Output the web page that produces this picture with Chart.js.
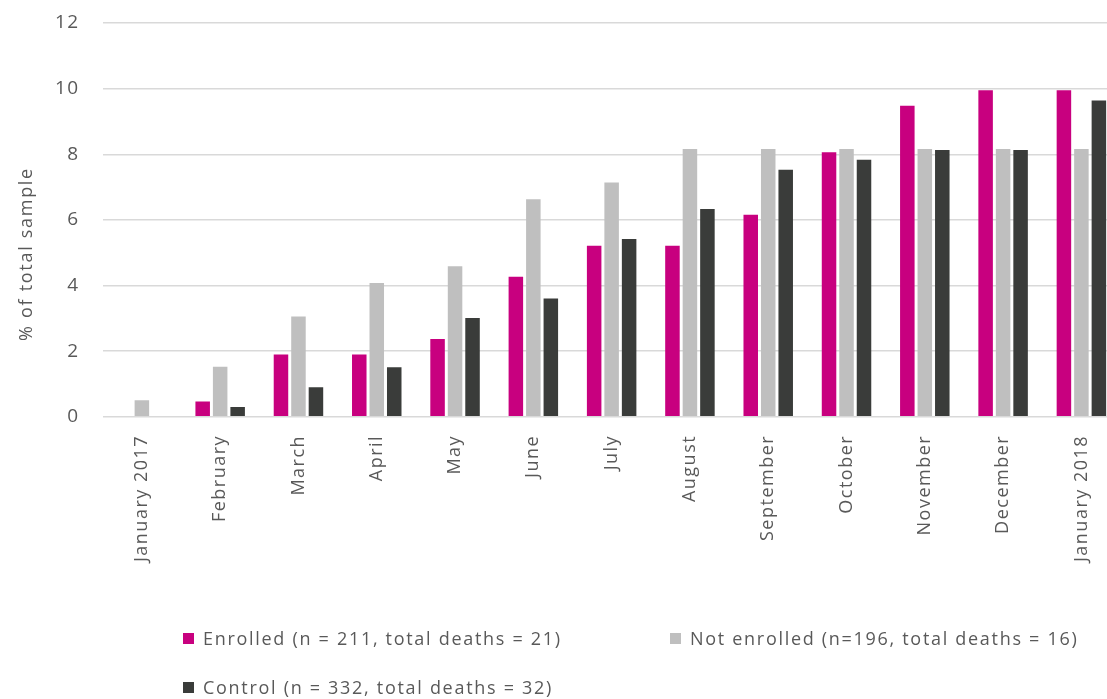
<!DOCTYPE html>
<html>
<head>
<meta charset="utf-8">
<script src="https://cdn.jsdelivr.net/npm/chart.js"></script>
<style>
  body { margin: 0; background: #fff; font-family: "Open Sans", sans-serif; overflow: hidden; }
  #wrap { position: relative; width: 1107px; height: 699px; overflow: hidden; }
  #chartBox { position: absolute; left: 0; top: 0; width: 1121px; height: 580px; }
  #yTitle {
    position: absolute; left: 25px; top: 254px;
    transform: translate(-50%, -50%) rotate(-90deg);
    white-space: nowrap; font-size: 18px; letter-spacing: 1.7px; color: #595959;
  }
  #legend { position: absolute; left: 0; top: 0; width: 1107px; height: 699px; pointer-events: none; }
  .item { position: absolute; display: flex; align-items: center; font-size: 18px; color: #595959; white-space: nowrap; letter-spacing: 1.7px; }
  .swatch { width: 11px; height: 11px; margin-right: 9px; }
</style>
</head>
<body>
<div id="wrap">
  <div id="chartBox"><canvas id="myChart"></canvas></div>
  <div id="yTitle">% of total sample</div>
  <div id="legend"></div>
</div>

<script>
  const months = ['January 2017', 'February', 'March', 'April', 'May', 'June', 'July',
    'August', 'September', 'October', 'November', 'December', 'January 2018'];

  // cumulative deaths as % of each group
  const enrolled    = [0, 0.47, 1.90, 1.90, 2.37, 4.27, 5.21, 5.21, 6.16, 8.06, 9.48, 9.95, 9.95];
  const notEnrolled = [0.51, 1.53, 3.06, 4.08, 4.59, 6.63, 7.14, 8.16, 8.16, 8.16, 8.16, 8.16, 8.16];
  const control     = [0, 0.30, 0.90, 1.51, 3.01, 3.61, 5.42, 6.33, 7.53, 7.83, 8.13, 8.13, 9.64];

  const seriesNames = ['Enrolled (n = 211, total deaths = 21)',
    'Not enrolled (n=196, total deaths = 16)',
    'Control (n = 332, total deaths = 32)'];
  const yTicks = [0, 2, 4, 6, 8, 10, 12];

  const colors = ['#C8007F', '#BFBFBF', '#3A3C3A'];

  Chart.defaults.font.family = '"Open Sans", sans-serif';
  Chart.defaults.color = '#595959';

  // wider character spacing on the axis labels (context state resets on resize)
  const spacing = {
    id: 'spacing',
    beforeUpdate: c => { c.ctx.letterSpacing = '1.5px'; },
    beforeLayout: c => { c.ctx.letterSpacing = '1.5px'; },
    beforeDraw: c => { c.ctx.letterSpacing = '1.5px'; },
  };

  const ctx = document.getElementById('myChart');
  const chart = new Chart(ctx, {
    type: 'bar',
    data: {
      labels: months,
      datasets: [enrolled, notEnrolled, control].map((d, i) => ({
        label: seriesNames[i],
        data: d,
        backgroundColor: colors[i],
        categoryPercentage: 0.67,
        barPercentage: 0.83,
      })),
    },
    plugins: [spacing],
    options: {
      responsive: true,
      maintainAspectRatio: false,
      animation: false,
      layout: {
        padding: { left: 32, right: 0, top: 23, bottom: 0 }
      },
      plugins: {
        legend: { display: false },
        tooltip: { enabled: false },
      },
      scales: {
        x: {
          grid: { display: false, drawTicks: false },
          border: { display: false },
          ticks: {
            autoSkip: false,
            maxRotation: 90,
            minRotation: 90,
            padding: 18,
            font: { size: 18 },
          },
        },
        y: {
          min: 0,
          max: 12,
          afterBuildTicks: axis => { axis.ticks = yTicks.map(v => ({ value: v })); },
          // tick padding is horizontal gap only; don't let it push the plot down
          afterFit: axis => { axis.paddingTop = 10; },
          grid: { color: '#D9D9D9', lineWidth: 1.5, drawTicks: false },
          border: { display: false },
          ticks: { padding: 23, font: { size: 19 } },
        },
      },
    },
  });

  // legend laid out in two rows like the original figure
  const legendPos = [[183, 639], [670, 639], [183, 688]];
  const legend = document.getElementById('legend');
  chart.data.datasets.forEach((ds, i) => {
    const item = document.createElement('div');
    item.className = 'item';
    item.style.left = legendPos[i][0] + 'px';
    item.style.top = (legendPos[i][1] - 13) + 'px';
    item.innerHTML = '<span class="swatch" style="background:' + ds.backgroundColor + '"></span>' + ds.label;
    legend.appendChild(item);
  });
</script>
</body>
</html>
